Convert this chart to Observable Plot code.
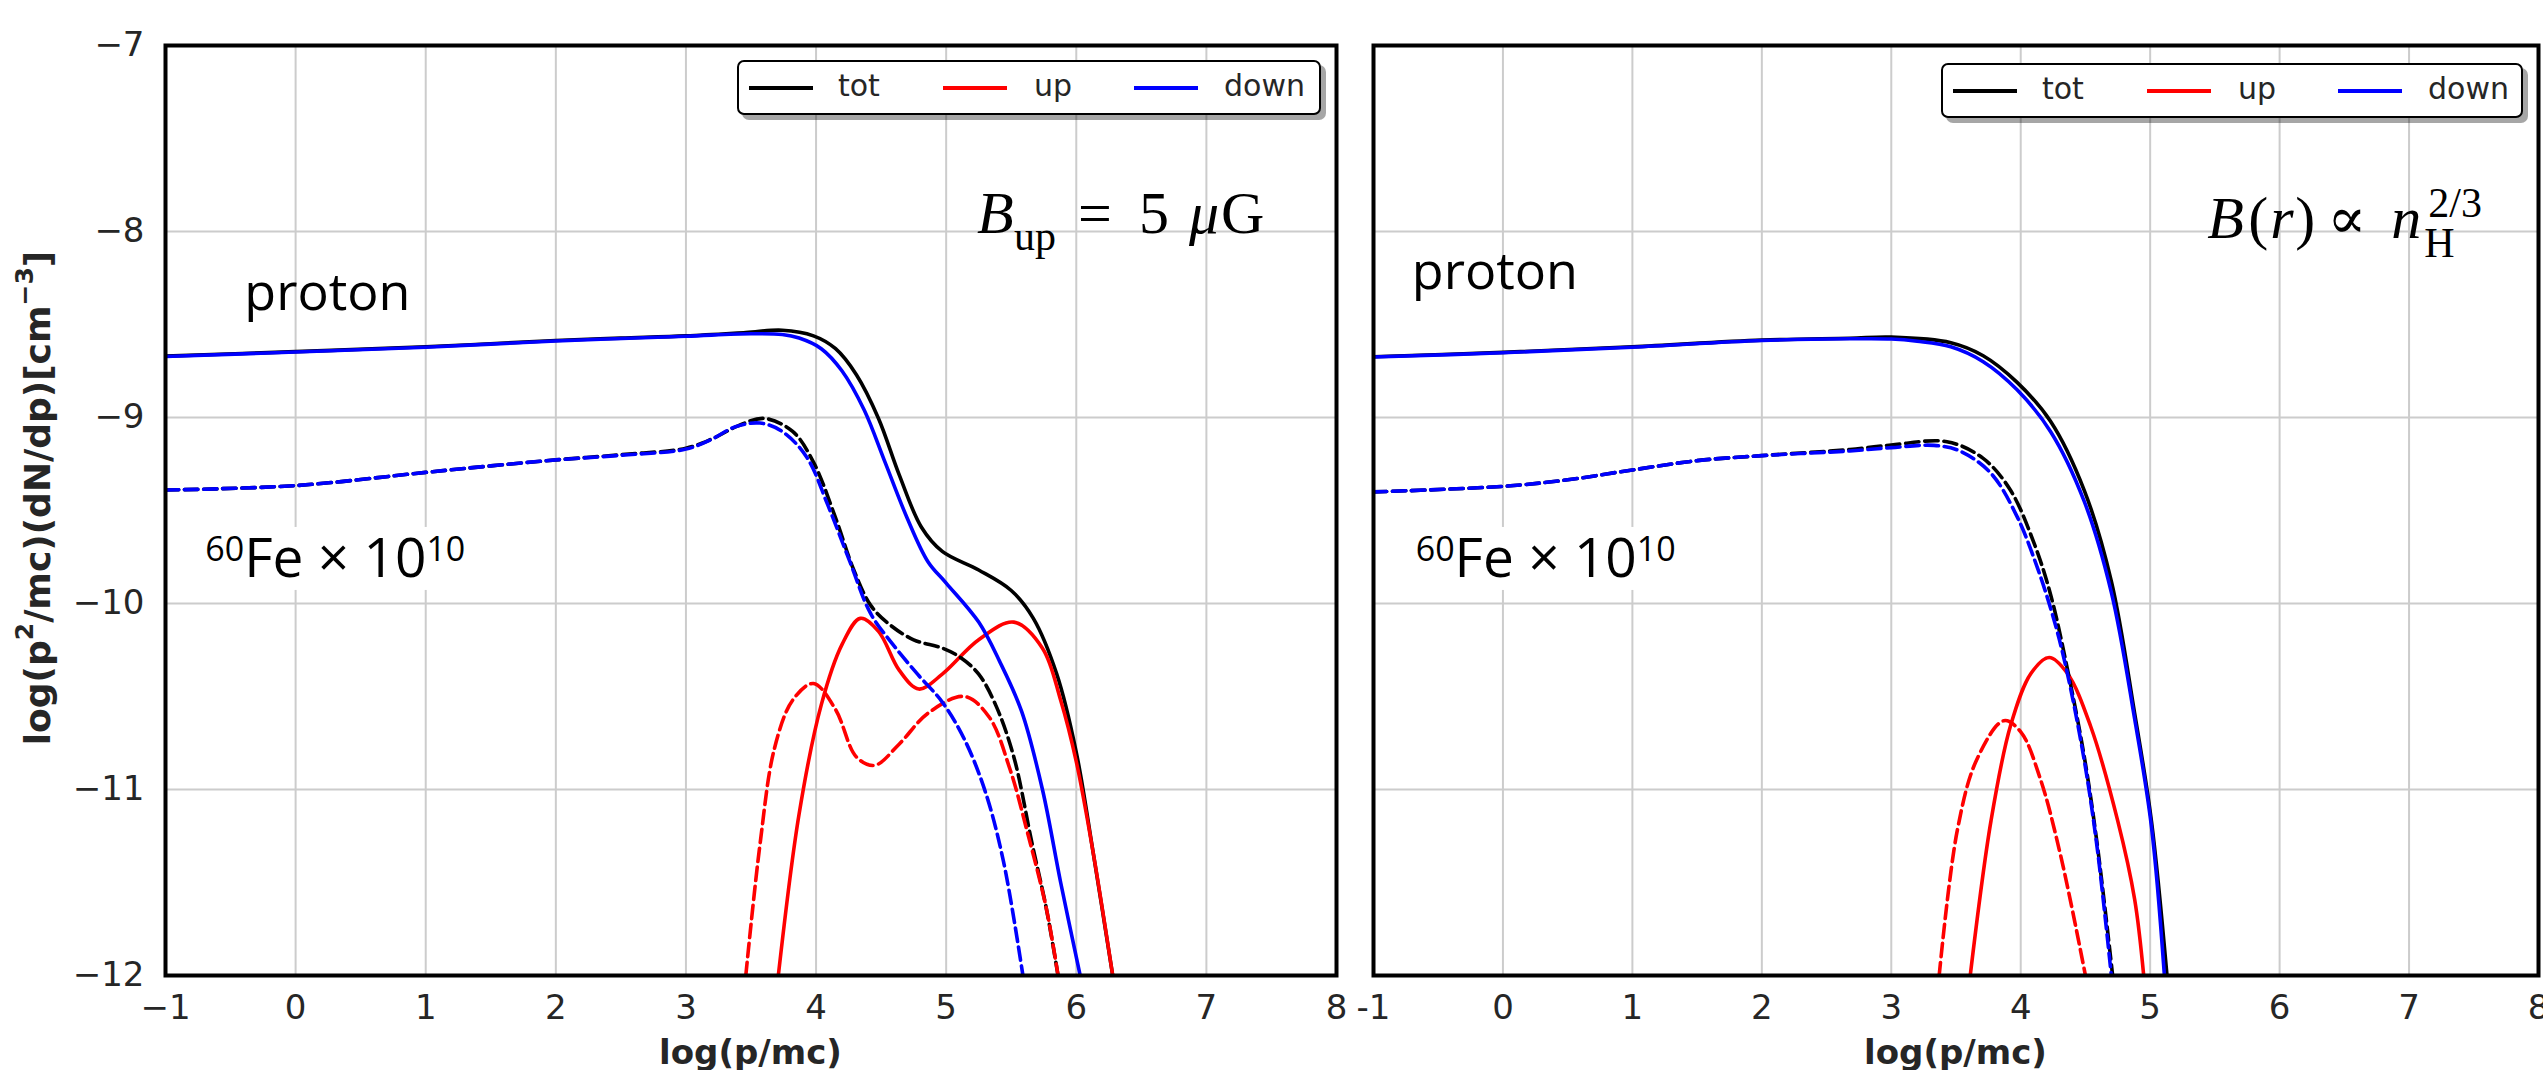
<!DOCTYPE html>
<html><head><meta charset="utf-8">
<script src="https://cdn.jsdelivr.net/npm/d3@7"></script>
<script src="https://cdn.jsdelivr.net/npm/@observablehq/plot@0.6"></script>
<style>
html,body{margin:0;padding:0;background:#fff;}
#root{position:relative;width:2543px;height:1070px;overflow:hidden;background:#fff;}
.panel{position:absolute;top:0;}
.legend{position:absolute;height:55px;border:2px solid #000;border-radius:7px;background:#fff;box-shadow:5px 5px 0 rgba(0,0,0,0.35);box-sizing:border-box;font-family:"DejaVu Sans";font-size:30px;color:#262626;}
.legend .h{position:absolute;top:24px;width:64px;height:4px;}
.legend .t{position:absolute;top:7px;line-height:34px;}
#overlay{position:absolute;left:0;top:0;pointer-events:none;}
</style></head>
<body><div id="root"></div>
<script>
// ---------- data ----------
const xTicks = [-1, 0, 1, 2, 3, 4, 5, 6, 7, 8];
const yTicks = [-12, -11, -10, -9, -8, -7];
const components = ["tot", "up", "down"];
const componentColors = ["black", "red", "blue"];

// Left panel (B_up = 5 uG): [log(p/mc), log(p^2/mc dN/dp)]
const protonTotL = [[-1,-8.67],[0,-8.646],[1,-8.62],[2,-8.586],[2.5,-8.573],[3,-8.561],[3.46,-8.543],[3.74,-8.531],[3.98,-8.561],[4.15,-8.63],[4.31,-8.77],[4.48,-9.005],[4.64,-9.31],[4.81,-9.59],[4.97,-9.72],[5.25,-9.82],[5.5,-9.93],[5.67,-10.08],[5.85,-10.38],[6.0,-10.80],[6.13,-11.34],[6.28,-12]];
const protonUpL = [[3.71,-12],[3.87,-11.13],[4.04,-10.545],[4.2,-10.22],[4.34,-10.08],[4.48,-10.15],[4.64,-10.36],[4.79,-10.46],[4.97,-10.38],[5.25,-10.195],[5.52,-10.10],[5.74,-10.24],[5.88,-10.52],[6.0,-10.85],[6.13,-11.34],[6.28,-12]];
const protonDownL = [[-1,-8.672],[0,-8.648],[1,-8.622],[2,-8.589],[3,-8.563],[3.5,-8.55],[3.74,-8.554],[3.87,-8.573],[4.04,-8.63],[4.2,-8.75],[4.37,-8.96],[4.53,-9.24],[4.70,-9.54],[4.86,-9.775],[5.0,-9.89],[5.25,-10.10],[5.41,-10.31],[5.58,-10.58],[5.74,-11.0],[5.88,-11.5],[6.03,-12]];
const feTotL = [[-1,-9.39],[0,-9.366],[1,-9.295],[1.5,-9.26],[2,-9.228],[2.5,-9.20],[3.0,-9.165],[3.2,-9.115],[3.4,-9.045],[3.6,-9.005],[3.82,-9.075],[3.98,-9.24],[4.15,-9.54],[4.29,-9.82],[4.42,-10.01],[4.56,-10.11],[4.75,-10.195],[4.97,-10.24],[5.11,-10.29],[5.25,-10.38],[5.38,-10.545],[5.52,-10.825],[5.66,-11.29],[5.77,-11.64],[5.86,-12]];
const feUpL = [[3.46,-12],[3.57,-11.29],[3.68,-10.78],[3.82,-10.52],[3.98,-10.43],[4.15,-10.57],[4.31,-10.825],[4.45,-10.87],[4.64,-10.755],[4.86,-10.59],[5.14,-10.50],[5.33,-10.61],[5.49,-10.89],[5.63,-11.245],[5.77,-11.64],[5.86,-12]];
const feDownL = [[-1,-9.39],[0,-9.366],[1,-9.295],[1.5,-9.26],[2,-9.228],[2.5,-9.203],[3.0,-9.17],[3.19,-9.12],[3.38,-9.05],[3.57,-9.03],[3.74,-9.075],[3.93,-9.215],[4.09,-9.47],[4.26,-9.775],[4.42,-10.055],[4.59,-10.22],[4.78,-10.38],[4.97,-10.53],[5.14,-10.73],[5.30,-11.01],[5.44,-11.385],[5.59,-12]];

// Right panel (B(r) ∝ n_H^{2/3})
const protonTotR = [[-1,-8.673],[0,-8.65],[1,-8.62],[2,-8.584],[2.68,-8.574],[3,-8.568],[3.46,-8.598],[3.71,-8.668],[3.97,-8.81],[4.23,-9.02],[4.49,-9.39],[4.70,-9.88],[4.88,-10.59],[5.01,-11.17],[5.13,-12]];
const protonUpR = [[3.61,-12],[3.77,-11.17],[3.92,-10.66],[4.08,-10.375],[4.22,-10.29],[4.36,-10.375],[4.54,-10.66],[4.75,-11.17],[4.88,-11.59],[4.95,-12]];
const protonDownR = [[-1,-8.675],[0,-8.652],[1,-8.622],[2,-8.586],[2.68,-8.577],[3,-8.578],[3.2,-8.59],[3.46,-8.62],[3.71,-8.70],[3.97,-8.85],[4.23,-9.075],[4.49,-9.45],[4.70,-9.94],[4.88,-10.62],[5.01,-11.2],[5.11,-12]];
const feTotR = [[-1,-9.40],[0,-9.37],[0.5,-9.335],[1,-9.282],[1.5,-9.232],[2,-9.205],[2.68,-9.172],[3.0,-9.148],[3.43,-9.13],[3.71,-9.22],[3.92,-9.39],[4.10,-9.67],[4.23,-9.95],[4.36,-10.35],[4.49,-10.82],[4.59,-11.29],[4.71,-12]];
const feUpR = [[3.37,-12],[3.51,-11.22],[3.66,-10.84],[3.87,-10.63],[4.0,-10.69],[4.15,-10.94],[4.31,-11.36],[4.50,-12]];
const feDownR = [[-1,-9.40],[0,-9.37],[0.5,-9.335],[1,-9.282],[1.5,-9.232],[2,-9.205],[2.68,-9.18],[3.0,-9.162],[3.33,-9.15],[3.53,-9.18],[3.77,-9.30],[3.97,-9.53],[4.13,-9.81],[4.26,-10.095],[4.36,-10.375],[4.49,-10.84],[4.59,-11.31],[4.70,-12]];

// ---------- drawing ----------
const root = document.getElementById("root");
const FONT = "DejaVu Sans";

function rows(pts, comp) { return pts.map(([x, y]) => ({x, y, comp})); }

function makePanel(p) {
  const proton = [...rows(p.protonTot, "tot"), ...rows(p.protonUp, "up"), ...rows(p.protonDown, "down")];
  const fe = [...rows(p.feTot, "tot"), ...rows(p.feUp, "up"), ...rows(p.feDown, "down")];
  const grid = {stroke: "#cccccc", strokeOpacity: 1, strokeWidth: 2};
  const marks = [
    Plot.gridX(xTicks, grid),
    Plot.gridY(yTicks, grid),
    Plot.line(proton, {x: "x", y: "y", z: "comp", stroke: "comp", strokeWidth: 3.6, curve: "catmull-rom", clip: true}),
    Plot.line(fe, {x: "x", y: "y", z: "comp", stroke: "comp", strokeWidth: 3.6, strokeDasharray: "13.3,5.8", curve: "catmull-rom", clip: true}),
    Plot.frame({stroke: "black", strokeWidth: 4}),
    Plot.axisX(xTicks, {tickSize: 0, tickPadding: 19, tickFormat: p.xFormat, label: null, fontSize: 34})
  ];
  if (p.showY) marks.push(Plot.axisY(yTicks, {tickSize: 0, tickPadding: 21, tickFormat: d => "\u2212" + Math.abs(d), label: null, fontSize: 34}));
  return Plot.plot({
    width: p.width, height: 1070,
    marginLeft: p.marginLeft, marginRight: p.marginRight, marginTop: 45, marginBottom: 95,
    x: {domain: [-1, 8], axis: null},
    y: {domain: [-12, -7], axis: null},
    color: {type: "ordinal", domain: components, range: componentColors},
    style: {background: "transparent", fontFamily: FONT, fontSize: "34px", color: "#262626", maxWidth: "none", overflow: "visible"},
    marks
  });
}

const left = {x: 0, plot: makePanel({protonTot: protonTotL, protonUp: protonUpL, protonDown: protonDownL, feTot: feTotL, feUp: feUpL, feDown: feDownL,
  width: 1372, marginLeft: 165, marginRight: 36, showY: true, xFormat: d => d < 0 ? "\u2212" + Math.abs(d) : String(d)})};
const right = {x: 1340, plot: makePanel({protonTot: protonTotR, protonUp: protonUpR, protonDown: protonDownR, feTot: feTotR, feUp: feUpR, feDown: feDownR,
  width: 1203, marginLeft: 33, marginRight: 5, showY: false, xFormat: d => String(d)})};

for (const P of [left, right]) {
  P.plot.classList.add("panel");
  P.plot.style.left = P.x + "px";
  root.appendChild(P.plot);
}

// Legends
function legend(boxLeft, boxTop, boxWidth) {
  const box = document.createElement("div");
  box.className = "legend";
  box.style.left = boxLeft + "px"; box.style.top = boxTop + "px"; box.style.width = boxWidth + "px";
  const handleX = [10, 204, 395], textX = [99, 295, 485];
  components.forEach((c, i) => {
    const h = document.createElement("div"); h.className = "h";
    h.style.left = handleX[i] + "px"; h.style.background = componentColors[i];
    const t = document.createElement("div"); t.className = "t";
    t.style.left = textX[i] + "px"; t.textContent = c;
    box.appendChild(h); box.appendChild(t);
  });
  root.appendChild(box);
}
legend(737, 60, 584);
legend(1941, 63, 582);

// Annotations overlay
const svg = d3.select(root).append("svg").attr("id", "overlay").attr("width", 2543).attr("height", 1070);
function pos(P, vx, vy) { return [P.x + P.plot.scale("x").apply(vx), P.plot.scale("y").apply(vy)]; }

function proton(P, vx, vy) {
  const [x, y] = pos(P, vx, vy);
  svg.append("text").attr("x", x).attr("y", y).attr("font-family", "Open Sans").attr("font-size", 52).attr("fill", "black").text("proton");
}
function fe(P, vx, vy) {
  const [x, y] = pos(P, vx, vy);
  const g = svg.append("g");
  const t = g.append("text").attr("x", x).attr("y", y).attr("font-family", "Open Sans").attr("font-size", 55).attr("fill", "black");
  t.append("tspan").attr("font-size", 34).attr("dy", -16).text("60");
  t.append("tspan").attr("dy", 16).text("Fe \u00d7 10");
  t.append("tspan").attr("font-size", 34).attr("dy", -16).text("10");
  const b = t.node().getBBox();
  g.insert("rect", "text").attr("x", b.x - 4).attr("y", y - 50).attr("width", b.width + 8).attr("height", 63).attr("fill", "white");
}
// math-style text: pieces [text, dxFromStart, dyFromBaseline, size, italic, family]
function mathText(P, vx, vy, pieces) {
  const [x, y] = pos(P, vx, vy);
  const t = svg.append("text").attr("font-family", "Liberation Serif").attr("fill", "black");
  for (const [s, dx, dy, size, it, fam] of pieces) {
    const ts = t.append("tspan").attr("x", x + dx).attr("y", y + dy).attr("font-size", size)
      .attr("font-style", it ? "italic" : "normal").text(s);
    if (fam) ts.attr("font-family", fam);
  }
}

proton(left, -0.39, -8.425);
fe(left, -0.69, -9.86);
mathText(left, 5.24, -8.011, [
  ["B", 0, 0, 60, true], ["up", 37, 17, 42, false], ["=", 101, 0, 60, false],
  ["5", 162, 0, 60, false], ["\u03bc", 212, 0, 60, true], ["G", 244, 0, 60, false]
]);
proton(right, -0.70, -8.312);
fe(right, -0.67, -9.86);
mathText(right, 5.445, -8.038, [
  ["B", 0, 0, 60, true], ["(", 41, 0, 60, false], ["r", 63, 0, 60, true], [")", 88, 0, 60, false],
  ["\u221d", 120, 0, 58, false, "DejaVu Serif"], ["n", 184, 0, 60, true], ["H", 217, 19, 42, false], ["2/3", 221, -21, 42, false]
]);

// Axis labels
const yl = svg.append("text").attr("transform", "translate(37,498) rotate(-90)").attr("text-anchor", "middle")
  .attr("dominant-baseline", "central").attr("font-family", FONT).attr("font-weight", "bold").attr("font-size", 36).attr("fill", "#262626");
yl.append("tspan").text("log(p");
yl.append("tspan").attr("font-size", 25).attr("dy", -13).text("2");
yl.append("tspan").attr("dy", 13).text("/mc)(dN/dp)[cm");
yl.append("tspan").attr("font-size", 25).attr("dy", -13).text("\u22123");
yl.append("tspan").attr("dy", 13).text("]");

for (const P of [left, right]) {
  const [cx] = pos(P, 3.5, -12);
  svg.append("text").attr("x", cx).attr("y", 1064).attr("text-anchor", "middle").attr("font-family", FONT)
    .attr("font-weight", "bold").attr("font-size", 34).attr("fill", "#262626").text("log(p/mc)");
}
</script></body></html>
